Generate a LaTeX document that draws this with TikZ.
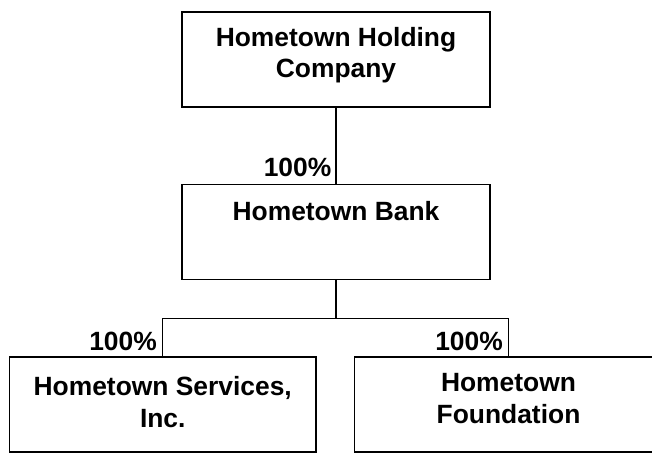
\documentclass[tikz,border=0pt]{standalone}
\usepackage{fontspec}
\setmainfont{Liberation Sans}
\begin{document}
\begin{tikzpicture}[x=1pt,y=1pt,
  box/.style={draw=black,line width=1.3pt,minimum width=308pt,minimum height=95pt,inner sep=0pt},
  txt/.style={font=\fontsize{26.4}{31.5}\selectfont\bfseries,align=center,inner sep=0pt,anchor=base},
  pct/.style={font=\fontsize{26.4}{31.5}\selectfont\bfseries,inner sep=0pt,anchor=base east},
  conn/.style={line width=1.2pt}]
\useasboundingbox (0,0) rectangle (652,453);
\clip (0,0) rectangle (652,453);
\node[box] (hold) at (336,393.5) {};
\node[box] (bank) at (336,221) {};
\node[box,minimum width=306.5pt] (serv) at (162.75,48.5) {};
\node[box] (found) at (508.5,48.5) {};
\node[txt] (holdt) at (336,375) {Hometown Holding\\Company};
\node[txt] (bankt) at (336,233) {Hometown Bank};
\node[txt] (servt) at (162.75,26) {Hometown Services,\\Inc.};
\node[txt] (foundt) at (508.5,30) {Hometown\\Foundation};
\node[pct] (p1) at (331.5,276.3) {100\%};
\node[pct] (p2) at (157,103) {100\%};
\node[pct] (p3) at (503,103) {100\%};
\coordinate (jl) at (162.75,134.5);
\draw[conn] (hold.south) -- (bank.north);
\draw[conn] (bank.south) -- (bank.south |- jl);
\draw[conn] (serv.north) -- (jl) -| (found.north);
\end{tikzpicture}
\end{document}
